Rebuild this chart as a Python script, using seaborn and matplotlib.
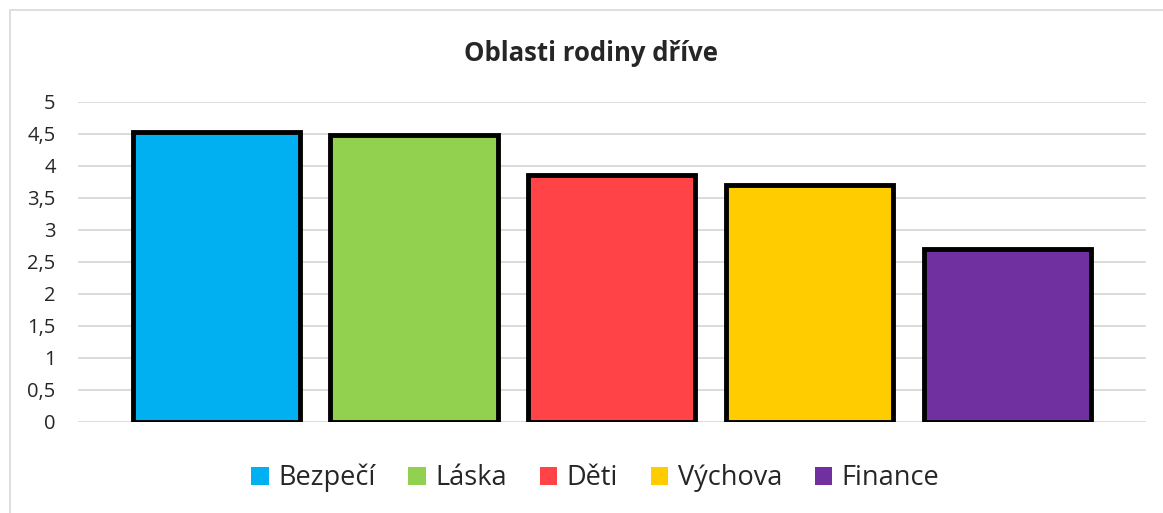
import matplotlib
matplotlib.use("Agg")
import matplotlib.pyplot as plt
import matplotlib.patches as mpatches
import seaborn as sns
import pandas as pd

categories = ["Bezpečí", "Láska", "Děti", "Výchova", "Finance"]
values = [4.53, 4.48, 3.86, 3.71, 2.70]
colors = ["#00B0F0", "#92D050", "#FF4346", "#FFCC00", "#7030A0"]
yticks = [0, 0.5, 1, 1.5, 2, 2.5, 3, 3.5, 4, 4.5, 5]
ytick_labels = ["0", "0,5", "1", "1,5", "2", "2,5", "3", "3,5", "4", "4,5", "5"]

sns.set_style("white")
plt.rcParams["font.family"] = ["Open Sans", "DejaVu Sans"]

df = pd.DataFrame({"oblast": categories, "hodnota": values})

fig = plt.figure(figsize=(11.63, 5.13), dpi=100)
ax = fig.add_axes([0.067, 0.1774, 0.918, 0.6238])

sns.barplot(data=df, x="oblast", y="hodnota", hue="oblast", palette=colors,
            width=0.845, edgecolor="black", linewidth=3.5, saturation=1,
            legend=False, ax=ax)

ax.set_ylim(0, 5)
ax.set_xlim(-0.70, 4.70)
ax.set_yticks(yticks)
ax.set_yticklabels(ytick_labels, fontsize=14.5)
ax.set_xticks([])
ax.set_xlabel("")
ax.set_ylabel("")
ax.yaxis.grid(True, color="#d9d9d9", linewidth=1.3)
ax.set_axisbelow(True)
ax.tick_params(axis="y", length=0, pad=16)
sns.despine(ax=ax, left=True, bottom=True)

# legend at the bottom
handles = [mpatches.Patch(facecolor=c, edgecolor="none", label=l)
           for c, l in zip(colors, categories)]
fig.legend(handles=handles, loc="center", bbox_to_anchor=(0.512, 0.068),
           ncol=5, frameon=False, fontsize=19.5, handlelength=0.65,
           handleheight=0.65, handletextpad=0.35, columnspacing=1.2)

fig.text(0.508, 0.895, "Oblasti rodiny dříve", ha="center", va="center",
         fontsize=18.5, fontweight="bold")

# chart border
fig.patches.append(mpatches.Rectangle((10 / 1163, -0.01), 1.02, 1 - 10 / 513 + 0.01,
                                      transform=fig.transFigure, fill=False,
                                      edgecolor="#d9d9d9", linewidth=1.2))

fig.savefig("out.png", dpi=100)
